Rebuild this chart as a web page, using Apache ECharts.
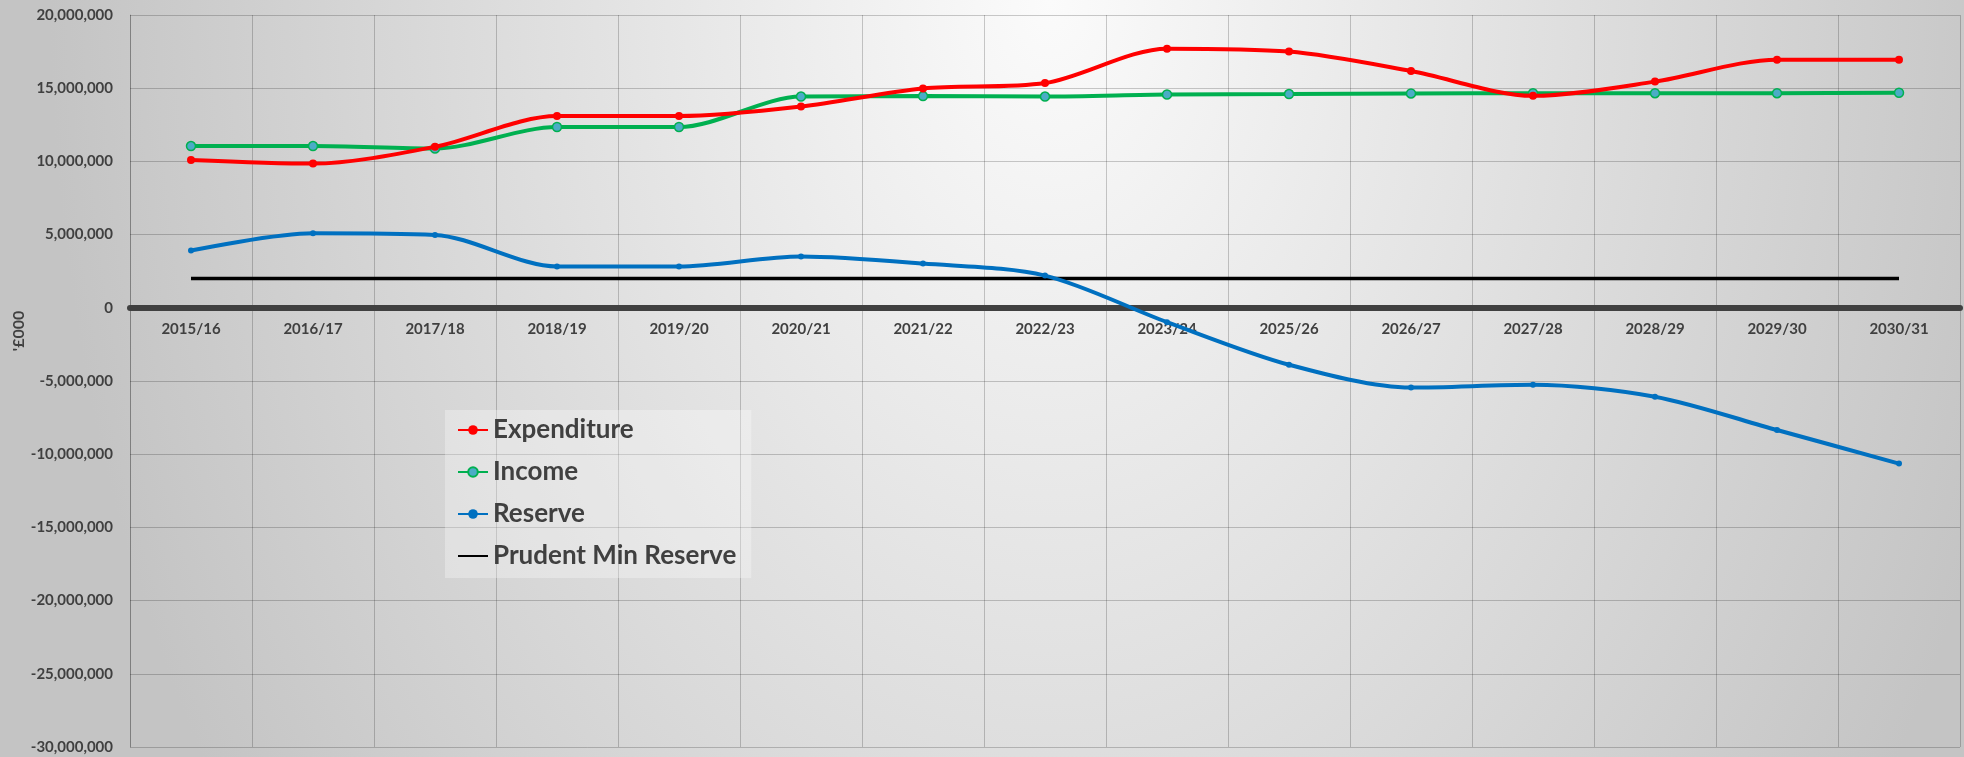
<!DOCTYPE html>
<html>
<head>
<meta charset="utf-8">
<title>Expenditure, Income and Reserve</title>
<script src="https://cdn.jsdelivr.net/npm/echarts@6/dist/echarts.min.js"></script>
<style>
  html, body { margin: 0; padding: 0; }
  body {
    width: 1964px;
    height: 757px;
    overflow: hidden;
    background: radial-gradient(ellipse 1000px 1430px at 1050px 0px, #fbfbfb 0%, #c4c4c4 100%);
  }
  #main { width: 1964px; height: 757px; }
</style>
</head>
<body>
<div id="main"></div>
<script>
// chart data ('£000)
var years = ['2015/16', '2016/17', '2017/18', '2018/19', '2019/20', '2020/21', '2021/22', '2022/23',
  '2023/24', '2025/26', '2026/27', '2027/28', '2028/29', '2029/30', '2030/31'];

var expenditure = [10100000, 9850000, 11000000, 13100000, 13100000, 13750000, 14980000, 15350000,
  17700000, 17500000, 16170000, 14480000, 15450000, 16950000, 16950000];

var income = [11050000, 11050000, 10880000, 12350000, 12350000, 14430000, 14460000, 14430000,
  14570000, 14600000, 14640000, 14660000, 14660000, 14660000, 14690000];

var reserve = [3910000, 5090000, 4980000, 2820000, 2820000, 3500000, 3020000, 2200000,
  -980000, -3890000, -5450000, -5250000, -6070000, -8350000, -10640000];

var prudentMin = [2000000, 2000000, 2000000, 2000000, 2000000, 2000000, 2000000, 2000000,
  2000000, 2000000, 2000000, 2000000, 2000000, 2000000, 2000000];

var yTicks = { min: -30000000, max: 20000000, step: 5000000 };

var font = 'Lato';
var textGrey = '#404040';
var gridGrey = 'rgba(0, 0, 0, 0.2)';
var smoothness = 0.3;

// plot box
var gridTop = 15, gridBottom = 10, chartH = 757;
var plotH = chartH - gridTop - gridBottom;
// lift the category axis (and its labels) up to the zero line
var zeroOffset = -plotH * (0 - yTicks.min) / (yTicks.max - yTicks.min);

var chart = echarts.init(document.getElementById('main'), null, { renderer: 'canvas' });

chart.setOption({
  backgroundColor: 'transparent',
  animation: false,
  textStyle: { fontFamily: font },
  grid: { left: 130, right: 4, top: gridTop, bottom: gridBottom, containLabel: false },
  legend: {
    orient: 'vertical',
    left: 445,
    top: 410,
    padding: [7, 15, 9, 12],
    itemWidth: 30,
    itemHeight: 12,
    itemGap: 16,
    backgroundColor: 'rgba(255, 255, 255, 0.3)',
    textStyle: { fontFamily: font, fontSize: 26, fontWeight: 'bold', color: textGrey },
    data: [
      'Expenditure',
      'Income',
      'Reserve',
      { name: 'Prudent Min Reserve', itemStyle: { opacity: 0 } }
    ]
  },
  graphic: [{
    type: 'text',
    x: 19,
    y: 331,
    rotation: Math.PI / 2,
    style: {
      text: "'£000",
      fontFamily: font,
      fontSize: 16,
      fontWeight: 'bold',
      fill: textGrey,
      align: 'center',
      verticalAlign: 'middle'
    }
  }],
  xAxis: {
    type: 'category',
    data: years,
    boundaryGap: true,
    offset: zeroOffset,
    axisLine: { onZero: false, lineStyle: { color: textGrey, width: 6 } },
    axisTick: { show: false },
    axisLabel: {
      margin: 14,
      fontFamily: font,
      fontSize: 15,
      fontWeight: 'bold',
      color: textGrey,
      interval: 0
    },
    splitLine: { show: true, interval: 0, lineStyle: { color: gridGrey, width: 1 } }
  },
  yAxis: {
    type: 'value',
    min: yTicks.min,
    max: yTicks.max,
    interval: yTicks.step,
    axisLine: { show: true, lineStyle: { color: gridGrey, width: 1 } },
    axisTick: { show: false },
    axisLabel: {
      margin: 17,
      fontFamily: font,
      fontSize: 15,
      fontWeight: 'bold',
      color: textGrey,
      formatter: function (v) {
        return v.toLocaleString('en-US');
      }
    },
    splitLine: { show: true, lineStyle: { color: gridGrey, width: 1 } }
  },
  series: [
    {
      name: 'Expenditure',
      type: 'line',
      data: expenditure,
      smooth: smoothness,
      symbol: 'circle',
      symbolSize: 8,
      lineStyle: { color: '#ff0000', width: 4 },
      itemStyle: { color: '#ff0000' },
      z: 4
    },
    {
      name: 'Income',
      type: 'line',
      data: income,
      smooth: smoothness,
      symbol: 'circle',
      symbolSize: 9,
      lineStyle: { color: '#00b050', width: 4 },
      itemStyle: { color: '#4bacc6', borderColor: '#00b050', borderWidth: 1.5 },
      z: 3
    },
    {
      name: 'Reserve',
      type: 'line',
      data: reserve,
      smooth: smoothness,
      symbol: 'circle',
      symbolSize: 6,
      lineStyle: { color: '#0070c0', width: 4 },
      itemStyle: { color: '#0070c0' },
      z: 3
    },
    {
      name: 'Prudent Min Reserve',
      type: 'line',
      data: prudentMin,
      symbol: 'none',
      lineStyle: { color: '#000000', width: 3.5 },
      itemStyle: { color: '#000000' },
      z: 2
    }
  ]
});
</script>
</body>
</html>
